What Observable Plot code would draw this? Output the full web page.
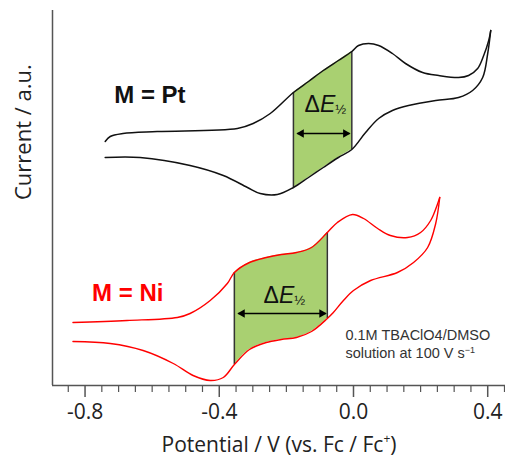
<!DOCTYPE html>
<html>
<head>
<meta charset="utf-8">
<script src="https://cdn.jsdelivr.net/npm/d3@7"></script>
<script src="https://cdn.jsdelivr.net/npm/@observablehq/plot@0.6"></script>
<style>
  html, body { margin: 0; padding: 0; background: #fff; }
  #chart svg { display: block; }
</style>
</head>
<body>
<div id="chart"></div>
<script>
// ---- Data (potential in V vs Fc/Fc+, current in arbitrary units) ----
// M = Pt (black) : anodic (upper) branch, left to right
const ptUpV = [-0.740,-0.725,-0.687,-0.585,-0.346,-0.299,-0.248,-0.179,-0.134,-0.090,-0.045,-0.005,0.015,0.045,0.075,0.116,0.155,0.206,0.254,0.313,0.343,0.370,0.388,0.403,0.409];
const ptUpI = [244,249,252,254,257,262,272,293,304,315,325,334,340,342,340,332,322,313,310,308,310,317,330,345,355];
// M = Pt : return (lower) branch, right to left
const ptDnV = [0.409,0.400,0.385,0.355,0.313,0.245,0.164,0.116,0.075,0.036,-0.005,-0.045,-0.090,-0.134,-0.179,-0.227,-0.278,-0.316,-0.388,-0.487,-0.636,-0.740];
const ptDnI = [355,332,308,295,288,285,280,275,267,253,236,228,218,208,198,191,192,198,210,220,228,228];
// M = Ni (red)
const niUpV = [-0.836,-0.675,-0.525,-0.487,-0.427,-0.376,-0.355,-0.310,-0.260,-0.215,-0.170,-0.125,-0.078,-0.048,-0.003,0.030,0.072,0.110,0.161,0.200,0.230,0.251,0.257];
const niUpI = [63,65,68,72,85,102,113,123,128,131,133,138,153,163,171,167,157,150,148,153,165,182,188];
const niDnV = [0.257,0.245,0.221,0.179,0.131,0.051,0.000,-0.030,-0.060,-0.078,-0.125,-0.170,-0.215,-0.260,-0.310,-0.355,-0.388,-0.427,-0.478,-0.537,-0.627,-0.725,-0.836];
const niDnI = [188,162,138,123,113,105,95,85,73,67,54,48,46,43,36,21,8,5,10,22,35,42,44];

// Shaded ΔE½ bands
const ptBandV  = [-0.179,-0.134,-0.090,-0.045,-0.005];
const ptBandLo = [198,208,218,228,236];
const ptBandHi = [293,304,315,325,334];
const niBandV  = [-0.355,-0.310,-0.260,-0.215,-0.170,-0.125,-0.078];
const niBandLo = [21,36,43,46,48,54,67];
const niBandHi = [113,123,128,131,133,138,153];

// Double-headed arrows [x1, x2, y]
const ptArrow = [-0.167, -0.012, 252];
const niArrow = [-0.343, -0.083, 72];

// Labels
const labels = [
  {v: -0.713, i: 283, text: "M = Pt", color: "#111"},
  {v: -0.779, i: 85,  text: "M = Ni", color: "#ff0000"}
];
const deltaLabels = [
  {v: -0.084, i: 274, text: "ΔE½"},
  {v: -0.206, i: 83,  text: "ΔE½"}
];
const noteLines = [
  {v: -0.024, i: 46, text: "0.1M TBAClO4/DMSO"},
  {v: -0.024, i: 28, text: "solution at 100 V s-1"}
];

// Axis ticks
const majorTicks = [-0.8, -0.4, 0.0, 0.4];
const minorTicks = d3.range(-0.85, 0.451, 0.05).map(d => +d.toFixed(2)).filter(d => !majorTicks.some(m => Math.abs(m - d) < 1e-6));
const xLabel = "Potential / V (vs. Fc / Fc+)";
const yLabel = "Current / a.u.";

// ---- Build tables ----
const zip = (vs, is) => vs.map((v, k) => ({v, i: is[k]}));
const ptUp = zip(ptUpV, ptUpI), ptDn = zip(ptDnV, ptDnI);
const niUp = zip(niUpV, niUpI), niDn = zip(niDnV, niDnI);
const band = (vs, lo, hi) => vs.map((v, k) => ({v, lo: lo[k], hi: hi[k]}));
const ptBand = band(ptBandV, ptBandLo, ptBandHi);
const niBand = band(niBandV, niBandLo, niBandHi);
const edges = b => [b[0], b[b.length - 1]];
const arrows = [ptArrow, niArrow].map(([x1, x2, y]) => ({x1, x2, y}));
const heads = arrows.flatMap(a => [{v: a.x1, i: a.y, side: "L"}, {v: a.x2, i: a.y, side: "R"}]);

const green = "#a9d071";
const headR = 3.2;
const headS = Math.sqrt(Math.PI * headR * headR) * 0.6824;

const chart = Plot.plot({
  width: 505,
  height: 457,
  marginLeft: 52,
  marginRight: 0,
  marginTop: 10,
  marginBottom: 72,
  style: {fontFamily: "'Open Sans', sans-serif", fontSize: "21px", color: "#222", background: "#fff"},
  x: {domain: [-0.897, 0.453], ticks: majorTicks, tickFormat: d => d.toFixed(1), tickSize: 0, tickPadding: 19, label: null},
  y: {domain: [0, 375], axis: null},
  marks: [
    // shaded bands
    Plot.areaY(ptBand, {x: "v", y1: "lo", y2: "hi", fill: green, curve: "catmull-rom"}),
    Plot.areaY(niBand, {x: "v", y1: "lo", y2: "hi", fill: green, curve: "catmull-rom"}),
    Plot.ruleX(edges(ptBand), {x: "v", y1: "lo", y2: "hi", stroke: "#333", strokeWidth: 1.5}),
    Plot.ruleX(edges(niBand), {x: "v", y1: "lo", y2: "hi", stroke: "#333", strokeWidth: 1.5}),
    // voltammograms
    Plot.line(ptUp, {x: "v", y: "i", stroke: "#111", strokeWidth: 1.5, curve: "catmull-rom"}),
    Plot.line(ptDn, {x: "v", y: "i", stroke: "#111", strokeWidth: 1.5, curve: "catmull-rom"}),
    Plot.line(niUp, {x: "v", y: "i", stroke: "#ff0000", strokeWidth: 1.4, curve: "catmull-rom"}),
    Plot.line(niDn, {x: "v", y: "i", stroke: "#ff0000", strokeWidth: 1.4, curve: "catmull-rom"}),
    // arrows
    Plot.link(arrows, {x1: "x1", x2: "x2", y1: "y", y2: "y", stroke: "#000", strokeWidth: 1.6}),
    Plot.dot(heads.filter(h => h.side === "R"), {x: "v", y: "i", symbol: "triangle", r: headR, rotate: 90, fill: "#000", stroke: "none", dx: -headS}),
    Plot.dot(heads.filter(h => h.side === "L"), {x: "v", y: "i", symbol: "triangle", r: headR, rotate: -90, fill: "#000", stroke: "none", dx: headS}),
    // axes lines & ticks
    Plot.ruleX([-0.897], {stroke: "#555", strokeWidth: 1.5}),
    Plot.ruleY([0], {stroke: "#555", strokeWidth: 1.5}),
    Plot.ruleX(majorTicks, {stroke: "#555", strokeWidth: 1.5, insetTop: 375, insetBottom: -12}),
    Plot.ruleX(minorTicks, {stroke: "#555", strokeWidth: 1.2, insetTop: 375, insetBottom: -7}),
    // axis titles
    Plot.text([xLabel], {frameAnchor: "bottom", dy: 66, lineAnchor: "bottom", fontSize: 21, fill: "#222", text: d => d}),
    Plot.text([yLabel], {frameAnchor: "left", dx: -29, dy: 2, rotate: -90, lineAnchor: "middle", fontSize: 22, fill: "#222", text: d => d}),
    // annotations
    Plot.text(labels, {x: "v", y: "i", text: "text", fill: "color", textAnchor: "start", lineAnchor: "bottom", fontFamily: "'Liberation Sans', Arial, sans-serif", fontWeight: "bold", fontSize: 24}),
    Plot.text(deltaLabels, {x: "v", y: "i", text: "text", fill: "#111", textAnchor: "middle", lineAnchor: "bottom", fontFamily: "'Liberation Sans', Arial, sans-serif", fontSize: 23}),
    Plot.text(noteLines, {x: "v", y: "i", text: "text", fill: "#333", textAnchor: "start", lineAnchor: "bottom", fontFamily: "'Liberation Sans', Arial, sans-serif", fontSize: 14.5})
  ]
});

// Rich text formatting (italic E, fraction, superscripts)
const svg = d3.select(chart);
svg.selectAll("text").each(function() {
  const t = d3.select(this);
  const s = this.textContent;
  if (s === "ΔE½") {
    t.text(null);
    t.append("tspan").text("Δ");
    t.append("tspan").attr("font-style", "italic").text("E");
    t.append("tspan").attr("font-size", 13).attr("dy", 2).text("½");
  } else if (s === xLabel) {
    t.text(null);
    t.append("tspan").text("Potential / V (vs. Fc / Fc");
    t.append("tspan").attr("font-size", 12).attr("dy", -9).text("+");
    t.append("tspan").attr("dy", 9).text(")");
  } else if (s === "solution at 100 V s-1") {
    t.text(null);
    t.append("tspan").text("solution at 100 V s");
    t.append("tspan").attr("font-size", 9).attr("dy", -5).text("−1");
  }
});

document.getElementById("chart").appendChild(chart);
</script>
</body>
</html>
